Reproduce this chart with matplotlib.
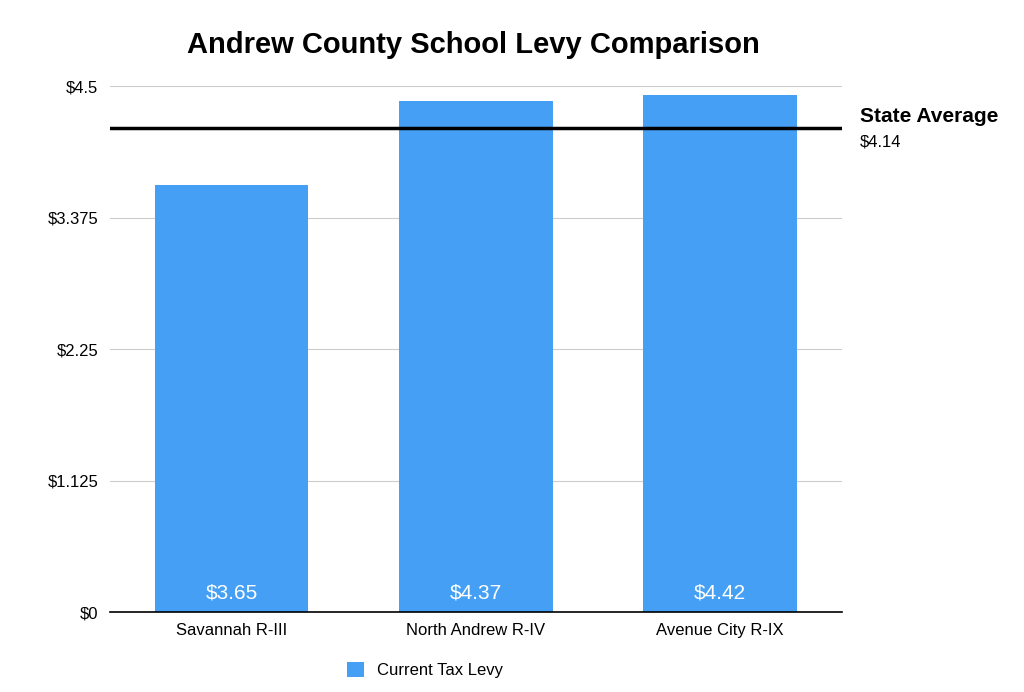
import matplotlib
matplotlib.use("Agg")
import matplotlib.pyplot as plt

plt.rcParams['font.family'] = ['Liberation Sans', 'DejaVu Sans']

districts = ["Savannah R-III", "North Andrew R-IV", "Avenue City R-IX"]
levy = [3.65, 4.37, 4.42]
labels = ["$3.65", "$4.37", "$4.42"]
state_avg = 4.14
yticks = [0, 1.125, 2.25, 3.375, 4.5]
ytick_labels = ["$0", "$1.125", "$2.25", "$3.375", "$4.5"]

fig = plt.figure(figsize=(10.24, 6.92), dpi=100)
ax = fig.add_axes([0.107, 0.1156, 0.715, 0.7601])
color = "#45a0f5"
bars = ax.bar(range(len(districts)), levy, width=0.63, color=color, label="Current Tax Levy", zorder=2)
for i, t in enumerate(labels):
    ax.text(i, 0.08, t, ha='center', va='bottom', color='white', fontsize=15, zorder=3)
ax.axhline(state_avg, color='black', lw=2.5, zorder=4)
ax.text(1.025, state_avg + 0.1, "State Average", transform=ax.get_yaxis_transform(),
        fontsize=15, fontweight='bold', va='center', ha='left')
ax.text(1.025, state_avg - 0.12, "$4.14", transform=ax.get_yaxis_transform(),
        fontsize=12, va='center', ha='left')
ax.set_xlim(-0.5, 2.5)
ax.set_ylim(0, 4.5)
ax.set_yticks(yticks)
ax.set_yticklabels(ytick_labels, fontsize=12)
ax.set_xticks(range(len(districts)))
ax.set_xticklabels(districts, fontsize=12)
ax.tick_params(length=0, pad=8)
ax.grid(axis='y', color='#cccccc', lw=0.8, zorder=0)
for s in ['left', 'right', 'top']:
    ax.spines[s].set_visible(False)
ax.spines['bottom'].set_color('black')
ax.spines['bottom'].set_linewidth(1.2)
fig.text(0.462, 0.935, "Andrew County School Levy Comparison", ha='center', va='center',
         fontsize=21, fontweight='bold')
fig.legend(handles=[bars], labels=["Current Tax Levy"], loc='center', bbox_to_anchor=(0.415, 0.032),
           frameon=False, fontsize=12, handlelength=1, handleheight=1)
fig.savefig("out.png", dpi=100)
